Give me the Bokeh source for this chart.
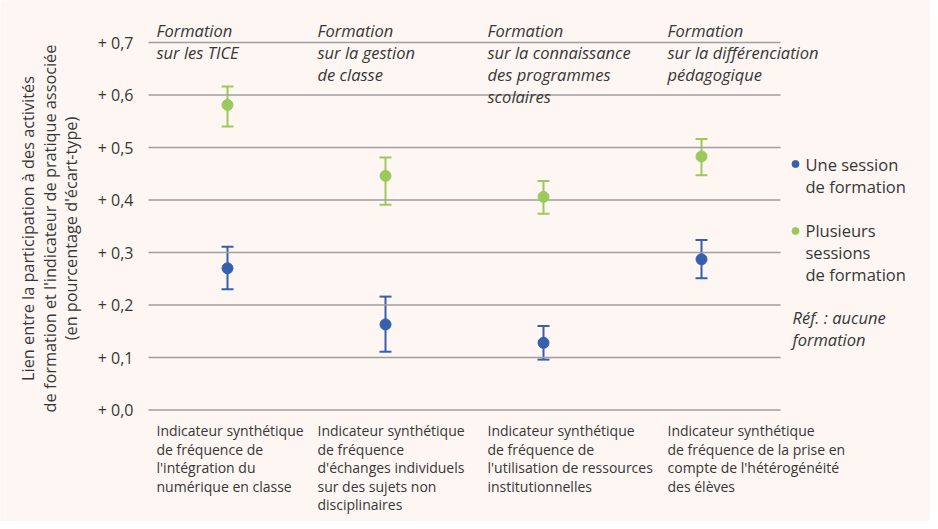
import math
from bokeh.plotting import figure
from bokeh.models import ColumnDataSource, Whisker, TeeHead, Range1d
from bokeh.core.properties import value
from bokeh.embed import file_html
from bokeh.resources import INLINE

# ---------------- data ----------------
categories = ["TICE", "gestion de classe", "programmes scolaires", "différenciation pédagogique"]
une_val = [0.270, 0.163, 0.128, 0.287]
une_low = [0.230, 0.111, 0.096, 0.251]
une_high = [0.311, 0.216, 0.160, 0.324]
plus_val = [0.581, 0.446, 0.406, 0.483]
plus_low = [0.540, 0.391, 0.374, 0.447]
plus_high = [0.616, 0.481, 0.436, 0.516]

y_ticks = [0.0, 0.1, 0.2, 0.3, 0.4, 0.5, 0.6, 0.7]
y_tick_labels = ["+ 0,0", "+ 0,1", "+ 0,2", "+ 0,3", "+ 0,4", "+ 0,5", "+ 0,6", "+ 0,7"]

header_lines = [
    ["Formation", "sur les TICE"],
    ["Formation", "sur la gestion", "de classe"],
    ["Formation", "sur la connaissance", "des programmes", "scolaires"],
    ["Formation", "sur la différenciation", "pédagogique"],
]
indicator_lines = [
    ["Indicateur synthétique", "de fréquence de", "l'intégration du", "numérique en classe"],
    ["Indicateur synthétique", "de fréquence", "d'échanges individuels", "sur des sujets non", "disciplinaires"],
    ["Indicateur synthétique", "de fréquence de", "l'utilisation de ressources", "institutionnelles"],
    ["Indicateur synthétique", "de fréquence de la prise en", "compte de l'hétérogénéité", "des élèves"],
]
y_title_lines = ["Lien entre la participation à des activités",
                 "de formation et l'indicateur de pratique associée",
                 "(en pourcentage d'écart-type)"]
series_names = [["Une session", "de formation"], ["Plusieurs", "sessions", "de formation"]]
ref_lines = ["Réf. : aucune", "formation"]

# ---------------- styles / layout ----------------
BG = "#fdf6f3"
TXT = "#363636"
BLUE = "#365fae"
GREEN = "#9cc95c"
GRID = "#a09e9e"
FONT = "Open Sans"

W, H = 930, 521
PX_PER_CAT = 158.0     # horizontal pixels per category
PX_PER_UNIT = 525.0    # vertical pixels per unit of y
PLOT_LEFT_PAGE = 156.0  # page x of category 0 left edge
ZERO_PAGE = 417.5       # page y of value 0

X0 = -(PLOT_LEFT_PAGE - 8) / PX_PER_CAT
X1 = X0 + W / PX_PER_CAT
Y1 = (ZERO_PAGE - 8) / PX_PER_UNIT
Y0 = Y1 - H / PX_PER_UNIT

def px_x(page_x):
    return X0 + (page_x - 8) / PX_PER_CAT

def px_y(page_y):
    return Y1 - (page_y - 8) / PX_PER_UNIT

p = figure(width=W, height=H, output_backend="svg", toolbar_location=None,
           x_range=Range1d(X0, X1), y_range=Range1d(Y0, Y1),
           min_border=0, frame_width=W, frame_height=H)
p.background_fill_color = BG
p.border_fill_color = BG
p.outline_line_color = None
p.xaxis.visible = False
p.yaxis.visible = False
p.xgrid.visible = False
p.ygrid.visible = False

# grid lines from the tick values
p.segment(x0=[0] * len(y_ticks), x1=[len(categories)] * len(y_ticks),
          y0=y_ticks, y1=y_ticks, line_color=GRID, line_width=1.5)

# tick labels
p.text(x=[px_x(141)] * len(y_ticks), y=y_ticks, text=y_tick_labels,
       text_font=value(FONT), text_font_size="16px", text_color=TXT,
       text_align="right", text_baseline="middle")

xs = [i + 0.5 for i in range(len(categories))]

for vals, lows, highs, col in [(une_val, une_low, une_high, BLUE),
                               (plus_val, plus_low, plus_high, GREEN)]:
    src = ColumnDataSource(dict(x=xs, y=vals, lo=lows, hi=highs))
    w = Whisker(source=src, base="x", upper="hi", lower="lo", dimension="height",
                line_color=col, line_width=2,
                upper_head=TeeHead(size=12, line_color=col, line_width=2),
                lower_head=TeeHead(size=12, line_color=col, line_width=2))
    p.add_layout(w)
    p.scatter("x", "y", source=src, size=11, color=col)

def add_texts(page_xs, page_ys, texts, size="15px", style="normal", color=TXT, align="left", angle=0.0):
    p.text(x=[px_x(v) for v in page_xs], y=[px_y(v) for v in page_ys], text=texts,
           text_font=value(FONT), text_font_size=size, text_font_style=style,
           text_color=color, text_align=align, text_baseline="middle", angle=angle)

header_left = [164, 325, 495, 675]
hx, hy, ht = [], [], []
for left, lines in zip(header_left, header_lines):
    for k, t in enumerate(lines):
        hx.append(left); hy.append(38 + 22 * k); ht.append(t)
add_texts(hx, hy, ht, size="16.5px", style="italic")

bx, by, bt = [], [], []
for left, lines in zip(header_left, indicator_lines):
    for k, t in enumerate(lines):
        bx.append(left); by.append(438 + 18.6 * k); bt.append(t)
add_texts(bx, by, bt, size="14px")

add_texts([35, 57, 78], [236, 236, 236], y_title_lines, size="16.3px", align="center", angle=math.pi / 2)

# legend
p.scatter(x=[px_x(803), px_x(803)], y=[px_y(171.5), px_y(238.5)], size=7, color=[BLUE, GREEN])
lx, ly, lt = [], [], []
for names, y0 in [(series_names[0], 172), (series_names[1], 238)]:
    for k, t in enumerate(names):
        lx.append(813); ly.append(y0 + 22 * k); lt.append(t)
add_texts(lx, ly, lt, size="16.5px")
add_texts([800, 800], [325, 347], ref_lines, size="16.5px", style="italic")

open("out.html", "w").write(file_html(p, INLINE))
